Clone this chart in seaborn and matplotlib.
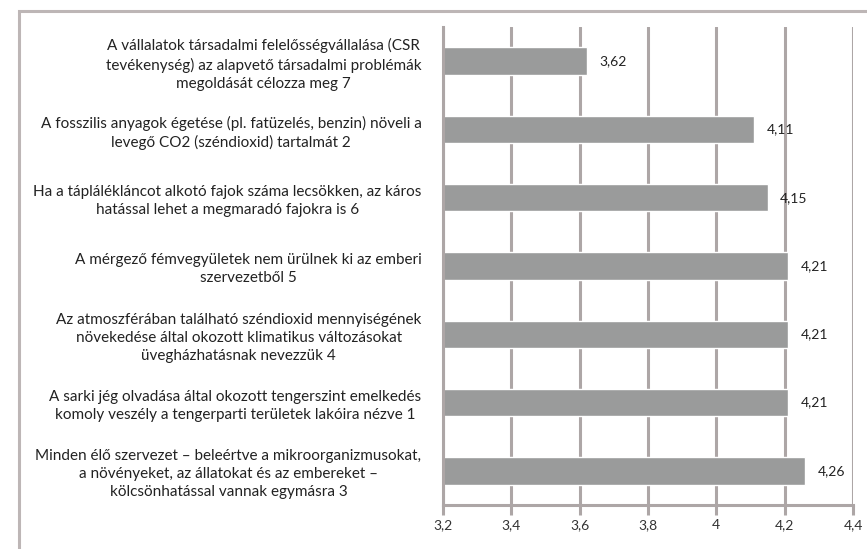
import matplotlib
matplotlib.use("Agg")
import matplotlib.pyplot as plt
import pandas as pd
import seaborn as sns
from matplotlib.patches import Rectangle

statements = [
    "A vállalatok társadalmi felelősségvállalása (CSR\ntevékenység) az alapvető társadalmi problémák\nmegoldását célozza meg 7",
    "A fosszilis anyagok égetése (pl. fatüzelés, benzin) növeli a\nlevegő CO2 (széndioxid) tartalmát 2",
    "Ha a táplálékláncot alkotó fajok száma lecsökken, az káros\nhatással lehet a megmaradó fajokra is 6",
    "A mérgező fémvegyületek nem ürülnek ki az emberi\nszervezetből 5",
    "Az atmoszférában található széndioxid mennyiségének\nnövekedése által okozott klimatikus változásokat\nüvegházhatásnak nevezzük 4",
    "A sarki jég olvadása által okozott tengerszint emelkedés\nkomoly veszély a tengerparti területek lakóira nézve 1",
    "Minden élő szervezet – beleértve a mikroorganizmusokat,\na növényeket, az állatokat és az embereket –\nkölcsönhatással vannak egymásra 3",
]
means = [3.62, 4.11, 4.15, 4.21, 4.21, 4.21, 4.26]
x_ticks = [3.2, 3.4, 3.6, 3.8, 4.0, 4.2, 4.4]
x_tick_labels = ["3,2", "3,4", "3,6", "3,8", "4", "4,2", "4,4"]

df = pd.DataFrame({"statement": statements, "mean": means})

sns.set_style("white")
plt.rcParams["font.family"] = ["Lato", "DejaVu Sans"]

fig = plt.figure(figsize=(8.67, 5.49), dpi=100)
ax = fig.add_axes([443 / 867, 1 - 505 / 549, 410 / 867, 478 / 549])

# outer chart frame (extends past right/bottom edge like the source)
fig.patches.append(Rectangle((19 / 867, -0.1), 1.2, 1 - 11 / 549 + 0.1,
                             transform=fig.transFigure, fill=False,
                             edgecolor="#bdb6b6", linewidth=2.2))

sns.barplot(data=df, y="statement", x="mean", orient="h", color="#9a9b9b",
            saturation=1, width=0.4, ax=ax)

grid_col = "#ada6a6"
ax.set_xlim(3.2, 4.4)
ax.set_xticks(x_ticks)
ax.set_xticklabels(x_tick_labels, fontsize=10, color="#333333")
ax.set_axisbelow(True)
ax.xaxis.grid(True, color=grid_col, linewidth=2.2)
ax.set_xlabel("")
ax.set_ylabel("")

for side in ["top", "right"]:
    ax.spines[side].set_visible(False)
for side in ["left", "bottom"]:
    ax.spines[side].set_color(grid_col)
    ax.spines[side].set_linewidth(2.2)

ax.tick_params(axis="x", bottom=True, length=7, width=2.2, color=grid_col, pad=3)
ax.tick_params(axis="y", left=False, pad=12)
for lbl in ax.get_yticklabels():
    lbl.set_multialignment("center")
    lbl.set_fontsize(11)
    lbl.set_linespacing(1.36)
    lbl.set_color("#222222")

for cont in ax.containers:
    ax.bar_label(cont, labels=[f"{v:.2f}".replace(".", ",") for v in means],
                 padding=9, fontsize=10, color="#222222")

fig.savefig("out.png", dpi=100)
